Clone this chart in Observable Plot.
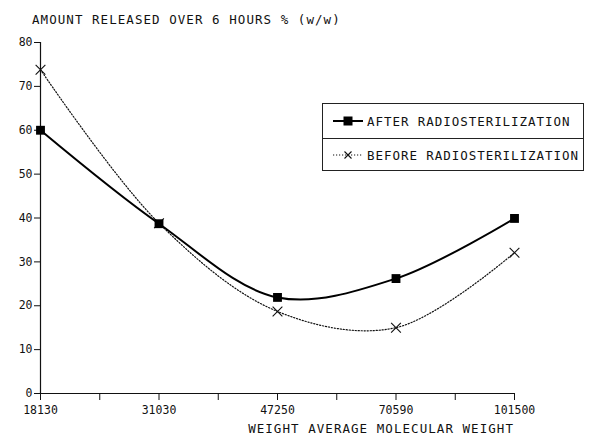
<!DOCTYPE html>
<html>
<head>
<meta charset="utf-8">
<script src="https://cdn.jsdelivr.net/npm/d3@7"></script>
<script src="https://cdn.jsdelivr.net/npm/@observablehq/plot@0.6"></script>
<style>
  body { margin: 0; background: #fff; }
  #wrap { position: relative; width: 589px; height: 438px; font-family: "DejaVu Sans Mono", monospace; color: #111; }
  #title { position: absolute; left: 32px; top: 12px; font-size: 12.5px; letter-spacing: 1.05px; white-space: nowrap; }
  #xtitle { position: absolute; right: 75px; top: 421px; font-size: 12.5px; letter-spacing: 1.05px; white-space: nowrap; }
  #legend { position: absolute; left: 322px; top: 103px; width: 262px; height: 68px; border: 1px solid #222; box-sizing: border-box; font-size: 12.5px; letter-spacing: 0.95px; }
  .row { position: absolute; left: 0; height: 34px; width: 100%; display: flex; align-items: center; }
  .row svg { margin-left: 10px; margin-right: 4px; }
  #sep { position: absolute; left: 0; right: 0; top: 34px; border-top: 1px solid #222; }
</style>
</head>
<body>
<div id="wrap">
  <div id="title">AMOUNT RELEASED OVER 6 HOURS % (w/w)</div>
  <div id="xtitle">WEIGHT AVERAGE MOLECULAR WEIGHT</div>
  <div id="legend"></div>
</div>
<script>
const categories = ["18130", "31030", "47250", "70590", "101500"];
const afterValues = [60, 38.7, 21.9, 26.2, 39.9];
const beforeValues = [73.8, 38.8, 18.7, 15.0, 32.1];
const yTicks = [0, 10, 20, 30, 40, 50, 60, 70, 80];
const seriesNames = ["AFTER RADIOSTERILIZATION", "BEFORE RADIOSTERILIZATION"];

const after = categories.map((c, i) => ({i, cat: c, v: afterValues[i]}));
const before = categories.map((c, i) => ({i, cat: c, v: beforeValues[i]}));
const xTicks = d3.range(0, categories.length - 1 + 0.01, 0.5);

const plot = Plot.plot({
  width: 589,
  height: 438,
  marginLeft: 40,
  marginRight: 75,
  marginTop: 42,
  marginBottom: 45,
  style: {fontFamily: "DejaVu Sans Mono, monospace", fontSize: "11.5px", color: "#111", background: "white"},
  x: {domain: [0, categories.length - 1]},
  y: {domain: [0, 80]},
  marks: [
    Plot.ruleX([0], {stroke: "#111", strokeWidth: 1.2}),
    Plot.ruleY([0], {stroke: "#111", strokeWidth: 1.2}),
    Plot.axisY({ticks: yTicks, tickSize: 6, tickPadding: 2, label: null, stroke: "#111"}),
    Plot.axisX({ticks: xTicks, tickSize: 7, tickPadding: 5, label: null, stroke: "#111",
      tickFormat: d => Number.isInteger(d) ? categories[d] : ""}),
    Plot.line(before, {x: "i", y: "v", curve: "catmull-rom", stroke: "#111", strokeWidth: 1.2, strokeDasharray: "1.2,1.8"}),
    Plot.line(after, {x: "i", y: "v", curve: "catmull-rom", stroke: "#000", strokeWidth: 2}),
    Plot.dot(before, {x: "i", y: "v", symbol: "times", r: 4.5, stroke: "#111", strokeWidth: 1.1}),
    Plot.dot(after, {x: "i", y: "v", symbol: "square", r: 5, fill: "#000", stroke: "none"})
  ]
});
plot.style.position = "absolute";
plot.style.left = "0px";
plot.style.top = "0px";
document.getElementById("wrap").prepend(plot);

const legend = document.getElementById("legend");
const sym = [
  `<svg width="30" height="12"><line x1="0" y1="6" x2="30" y2="6" stroke="#000" stroke-width="2"/><rect x="10.5" y="1.5" width="9" height="9" fill="#000"/></svg>`,
  `<svg width="30" height="12"><line x1="0" y1="6" x2="30" y2="6" stroke="#111" stroke-width="1.2" stroke-dasharray="1.2,1.8"/><path d="M11.5,2.5L18.5,9.5M18.5,2.5L11.5,9.5" stroke="#111" stroke-width="1.1"/></svg>`
];
seriesNames.forEach((n, k) => {
  const r = document.createElement("div");
  r.className = "row";
  r.style.top = (k * 34) + "px";
  r.innerHTML = sym[k] + `<span>${n}</span>`;
  legend.appendChild(r);
});
const sep = document.createElement("div");
sep.id = "sep";
legend.appendChild(sep);
</script>
</body>
</html>
